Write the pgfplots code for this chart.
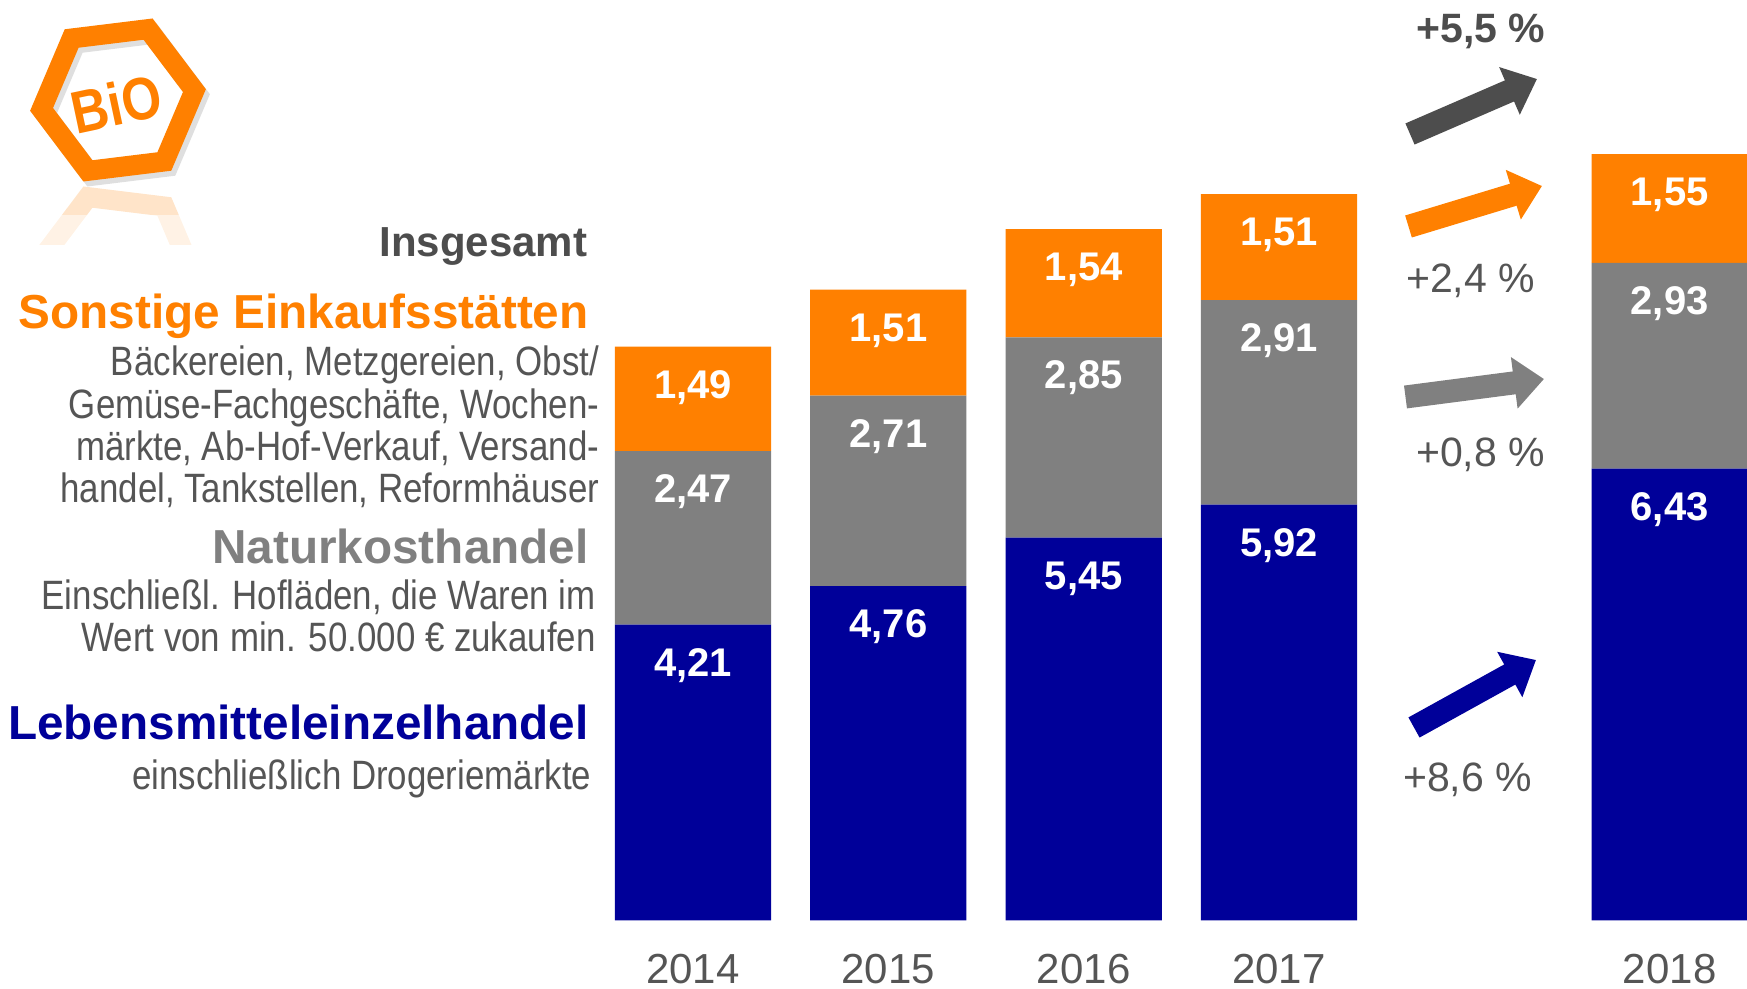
\documentclass[border=0pt]{standalone}
\usepackage{pgfplots}
\pgfplotsset{compat=1.18}
\usepackage{pgfplotstable}
\usetikzlibrary{arrows.meta}
\usepackage{fontspec}
\setmainfont{Liberation Sans}
\newfontfamily\narrow[FakeStretch=0.85]{Liberation Sans}
\definecolor{bioorange}{RGB}{255,128,0}
\definecolor{biogrey}{RGB}{128,128,128}
\definecolor{bioblue}{RGB}{0,0,153}
\definecolor{darktxt}{RGB}{77,77,77}
\definecolor{midtxt}{RGB}{85,85,85}

\pgfplotstableread{
x blue grey orange zero bl gl ol tot
0 4.21 2.47 1.49 0 4,21 2,47 1,49 8,17
1 4.76 2.71 1.51 0 4,76 2,71 1,51 8,98
2 5.45 2.85 1.54 0 5,45 2,85 1,54 9,84
3 5.92 2.91 1.51 0 5,92 2,91 1,51 10,34
5 6.43 2.93 1.55 0 6,43 2,93 1,55 10,91
}\data

\newcommand{\seglab}{\fontsize{20pt}{24pt}\selectfont\bfseries}
\newcommand{\headtxt}{\fontsize{23.85pt}{28pt}\selectfont\bfseries}
\newcommand{\smalltxt}{\fontsize{20.5pt}{24pt}\selectfont\narrow}

\pgfplotsset{seglabel/.style={nodes near coords,
  visualization depends on={\thisrow{#1}\as\segh},
  every node near coord/.append style={font=\seglab, text=white, anchor=base, yshift={17.558pt*\segh-25.75pt}, inner sep=0pt}}}

\begin{document}
\begin{tikzpicture}
\begin{axis}[
  width=873.5pt, height=494.5pt, scale only axis,
  xmin=-3.548, xmax=5.396, ymin=-0.978, ymax=13.104,
  hide axis,
  ybar stacked, bar width=0.8,
  point meta=explicit symbolic,
]
\addplot[fill=bioblue, draw=none, seglabel=blue]
  table[x=x, y=blue, meta=bl] {\data};
\addplot[fill=biogrey, draw=none, seglabel=grey]
  table[x=x, y=grey, meta=gl] {\data};
\addplot[fill=bioorange, draw=none, seglabel=orange]
  table[x=x, y=orange, meta=ol] {\data};
\addplot[fill=none, draw=none, nodes near coords,
  every node near coord/.append style={font=\fontsize{22.5pt}{27pt}\selectfont\bfseries, text=darktxt, anchor=base, yshift=14.9pt, inner sep=0pt}]
  table[x=x, y=zero, meta=tot] {\data};
\end{axis}

\begin{scope}[shift={(current axis.north west)}, x=0.5pt, y=-0.5pt]
  % logo reflection
  \begin{scope}
    \clip (15,183) rectangle (230,245);
    \begin{scope}[shift={(118,268)}]
      \draw[bioorange, opacity=0.10, line width=10pt, line join=miter]
        (7:77) -- (67:77) -- (127:77) -- (187:77) -- (247:77) -- (307:77) -- cycle;
    \end{scope}
  \end{scope}
  \begin{scope}
    \clip (15,183) rectangle (230,215);
    \begin{scope}[shift={(118,268)}]
      \draw[bioorange, opacity=0.12, line width=10pt, line join=miter]
        (7:77) -- (67:77) -- (127:77) -- (187:77) -- (247:77) -- (307:77) -- cycle;
    \end{scope}
  \end{scope}
  % logo
  \begin{scope}[shift={(118,100)}]
    \draw[black!25, line width=10pt, line join=miter, opacity=0.5, shift={(4,5)}]
      (-7:77) -- (-67:77) -- (-127:77) -- (-187:77) -- (-247:77) -- (-307:77) -- cycle;
    \draw[bioorange, line width=10pt, line join=miter]
      (-7:77) -- (-67:77) -- (-127:77) -- (-187:77) -- (-247:77) -- (-307:77) -- cycle;
    \node[rotate=12, text=bioorange, font=\fontsize{30pt}{34pt}\selectfont\bfseries\narrow, inner sep=0] at (-2,4) {BiO};
  \end{scope}

  % left texts
  \node[anchor=base east, inner sep=0, text=darktxt, font=\fontsize{21pt}{25pt}\selectfont\bfseries] at (587.5,256.7) {Insgesamt};
  \node[anchor=base east, inner sep=0, text=bioorange, font=\headtxt] at (589,328.3) {Sonstige Einkaufsstätten};
  \node[anchor=base east, inner sep=0, text=midtxt, font=\smalltxt] at (599.5,376) {Bäckereien, Metzgereien, Obst/};
  \node[anchor=base east, inner sep=0, text=midtxt, font=\smalltxt] at (599.5,418.3) {Gemüse-Fachgeschäfte, Wochen-};
  \node[anchor=base east, inner sep=0, text=midtxt, font=\smalltxt] at (599.5,460.6) {märkte, Ab-Hof-Verkauf, Versand-};
  \node[anchor=base east, inner sep=0, text=midtxt, font=\smalltxt] at (599.5,503) {handel, Tankstellen, Reformhäuser};
  \node[anchor=base east, inner sep=0, text=biogrey, font=\headtxt] at (589,563.3) {Naturkosthandel};
  \node[anchor=base east, inner sep=0, text=midtxt, font=\smalltxt] at (596,610) {Einschließl. Hofläden, die Waren im};
  \node[anchor=base east, inner sep=0, text=midtxt, font=\smalltxt] at (596,651.7) {Wert von min. 50.000 € zukaufen};
  \node[anchor=base east, inner sep=0, text=bioblue, font=\headtxt] at (589,740) {Lebensmitteleinzelhandel};
  \node[anchor=base east, inner sep=0, text=midtxt, font=\smalltxt] at (591.7,790) {einschließlich Drogeriemärkte};

  % years
  \foreach \xx/\yr in {693/2014, 888.3/2015, 1083.7/2016, 1279/2017, 1669.7/2018}
    \node[anchor=base, inner sep=0, text=midtxt, font=\fontsize{21pt}{25pt}\selectfont] at (\xx,984) {\yr};

  % growth arrows
  \draw[darktxt, line width=11.5pt, -{Triangle[length=15pt, width=25pt]}] (1410,134) -- (1537,79);
  \draw[bioorange, line width=11.5pt, -{Triangle[length=15pt, width=25pt]}] (1408.5,226.5) -- (1542,186);
  \draw[biogrey, line width=11.5pt, -{Triangle[length=15pt, width=25pt]}] (1405.5,397) -- (1544,379);
  \draw[bioblue, line width=11.5pt, -{Triangle[length=15pt, width=25pt]}] (1414,727.5) -- (1536,660);

  \node[anchor=base, inner sep=0, text=darktxt, font=\fontsize{20.5pt}{24pt}\selectfont\bfseries] at (1481,43) {+5,5 \%};
  \node[anchor=base, inner sep=0, text=midtxt, font=\fontsize{20.5pt}{24pt}\selectfont] at (1470.5,293) {+2,4 \%};
  \node[anchor=base, inner sep=0, text=midtxt, font=\fontsize{20.5pt}{24pt}\selectfont] at (1480.5,467) {+0,8 \%};
  \node[anchor=base, inner sep=0, text=midtxt, font=\fontsize{20.5pt}{24pt}\selectfont] at (1467.5,792) {+8,6 \%};
\end{scope}

\pgfresetboundingbox
\path[use as bounding box] (current axis.south west) rectangle (current axis.north east);
\end{tikzpicture}
\end{document}
